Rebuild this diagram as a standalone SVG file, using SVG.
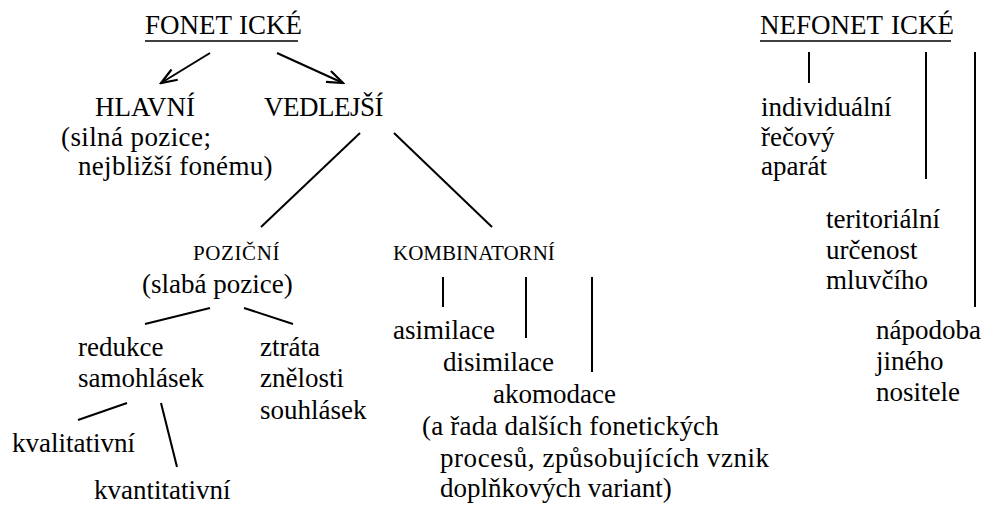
<svg xmlns="http://www.w3.org/2000/svg" width="985" height="505" viewBox="0 0 985 505">
<style>
text{font-family:"Liberation Serif","Times New Roman",serif;font-size:27px;fill:#000}
text.sm{font-size:21px}
.c line{stroke:#000;stroke-width:2;fill:none}
.u{stroke:#000;stroke-width:1.5}
</style>
<defs>
<marker id="ah" markerUnits="userSpaceOnUse" markerWidth="20" markerHeight="14" viewBox="0 0 20 14" refX="18" refY="7" orient="auto">
<path d="M2,1 L18,7 L2,13" fill="none" stroke="#000" stroke-width="2.2"/>
</marker>
</defs>
<rect width="985" height="505" fill="#fff"/>
<g id="foneticke">
<text x="145" y="34">FONET<tspan dx="7">ICKÉ</tspan></text>
<line class="u" x1="145" y1="41" x2="298" y2="41"/>
</g>
<g id="hlavni">
<text x="95" y="116">HLAVNÍ</text>
<text x="61" y="146" letter-spacing="0.4">(silná pozice;</text>
<text x="78" y="175" letter-spacing="0.3">nejbližší fonému)</text>
</g>
<g id="vedlejsi"><text x="264" y="116" letter-spacing="-0.5">VEDLEJŠÍ</text></g>
<g id="pozicni">
<text class="sm" x="193" y="260" letter-spacing="0.6">POZIČNÍ</text>
<text x="142" y="293">(slabá pozice)</text>
</g>
<g id="kombinatorni"><text class="sm" x="393" y="260">KOMBINATORNÍ</text></g>
<g id="redukce">
<text x="78" y="356">redukce</text>
<text x="78" y="387">samohlásek</text>
</g>
<g id="ztrata">
<text x="260" y="356">ztráta</text>
<text x="260" y="387">znělosti</text>
<text x="260" y="419">souhlásek</text>
</g>
<g id="kvalitativni"><text x="12" y="452">kvalitativní</text></g>
<g id="kvantitativni"><text x="94" y="499">kvantitativní</text></g>
<g id="asimilace"><text x="393" y="339">asimilace</text></g>
<g id="disimilace"><text x="443" y="371">disimilace</text></g>
<g id="akomodace">
<text x="493" y="403">akomodace</text>
<text x="422" y="435" letter-spacing="0.2">(a řada dalších fonetických</text>
<text x="440" y="467" letter-spacing="0.55">procesů, způsobujících vznik</text>
<text x="440" y="497">doplňkových variant)</text>
</g>
<g id="nefoneticke">
<text x="760" y="34">NEFONET<tspan dx="8">ICKÉ</tspan></text>
<line class="u" x1="760" y1="41" x2="951" y2="41"/>
</g>
<g id="individualni">
<text x="761" y="116">individuální</text>
<text x="761" y="146">řečový</text>
<text x="761" y="175">aparát</text>
</g>
<g id="teritorialni">
<text x="826" y="228">teritoriální</text>
<text x="826" y="259">určenost</text>
<text x="826" y="289">mluvčího</text>
</g>
<g id="napodoba">
<text x="876" y="339">nápodoba</text>
<text x="876" y="370">jiného</text>
<text x="876" y="401">nositele</text>
</g>
<g id="connectors" class="c">
<line x1="210" y1="53" x2="161" y2="83" marker-end="url(#ah)"/>
<line x1="277" y1="53" x2="343" y2="83" marker-end="url(#ah)"/>
<line x1="360" y1="133" x2="261" y2="227"/>
<line x1="394" y1="133" x2="492" y2="227"/>
<line x1="210" y1="308" x2="145" y2="324"/>
<line x1="244" y1="308" x2="293" y2="324"/>
<line x1="127" y1="403" x2="78" y2="420"/>
<line x1="161" y1="403" x2="177" y2="467"/>
<line x1="443" y1="277" x2="443" y2="307"/>
<line x1="526" y1="277" x2="526" y2="338"/>
<line x1="592" y1="277" x2="592" y2="372"/>
<line x1="809" y1="52" x2="809" y2="83"/>
<line x1="926" y1="52" x2="926" y2="179"/>
<line x1="975" y1="52" x2="975" y2="307"/>
</g>
</svg>
